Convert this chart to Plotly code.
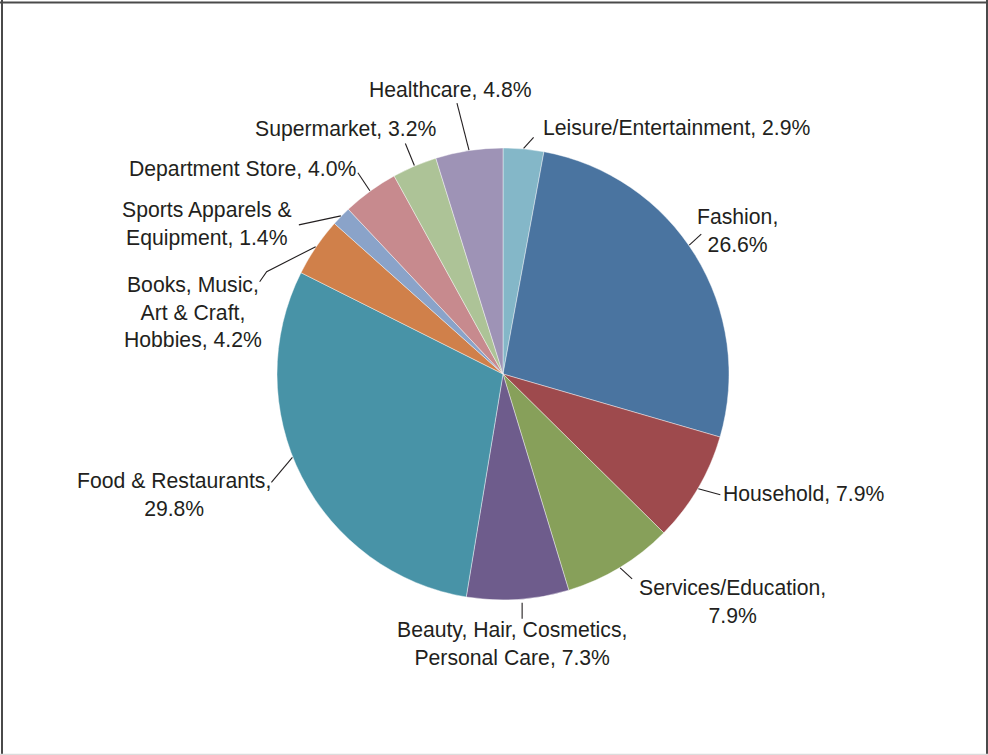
import math
import plotly.graph_objects as go

# Share of spending by retail category (%), clockwise from 12 o'clock
categories = [
    "Leisure/Entertainment", "Fashion", "Household", "Services/Education",
    "Beauty, Hair, Cosmetics, Personal Care", "Food & Restaurants",
    "Books, Music, Art & Craft, Hobbies", "Sports Apparels & Equipment",
    "Department Store", "Supermarket", "Healthcare",
]
shares = [2.9, 26.6, 7.9, 7.9, 7.3, 29.8, 4.2, 1.4, 4.0, 3.2, 4.8]
colors = [
    "#84b7c8", "#4a74a0", "#9e4a4d", "#87a05a", "#6e5c8c", "#4893a7",
    "#d0804a", "#8aa3c9", "#c78a8e", "#adc397", "#9e93b6",
]
# Label text as printed (line breaks inserted), value appended below
label_names = [
    "Leisure/Entertainment,", "Fashion,<br>", "Household,", "Services/Education,<br>",
    "Beauty, Hair, Cosmetics,<br>Personal Care,", "Food & Restaurants,<br>",
    "Books, Music,<br>Art & Craft,<br>Hobbies,", "Sports Apparels &<br>Equipment,",
    "Department Store,", "Supermarket,", "Healthcare,",
]

W, H = 988, 755
CX, CY, R = 503, 374, 226  # pie centre and radius in pixels

# Leader-line layout per label: angle nudge (deg), line points relative to the
# slice edge (px), then label anchor position (px) and x-anchor.
angle_nudge = [0, -3, 0, 0, -1, 5.4, 0, 0, 0, 0, 0]
line_pts = [
    [(10, -11)], [(12, -11)], [(22, 6)], [(12, 11)], [(0, 16)], [(-21, 25)],
    [(-49, 25), (-56, 35)], [(-42, 9)], [(-12, -18)], [(-9, -22)], [(-12, -47)],
]
line_gap = [0, 0, 0, 0, 3, 0, 0, 0, 0, 0, 0]
text_pos = [
    (541, 127, "left"), (737, 230, "center"), (721, 493, "left"),
    (732, 601, "center"), (512, 643, "center"), (174, 494, "center"),
    (193, 312, "center"), (207, 224, "center"), (358, 169, "right"),
    (439, 129, "right"), (450, 89, "center"),
]


def px(x, y):
    return x / W, 1 - y / H


fig = go.Figure(
    go.Pie(
        labels=categories,
        values=shares,
        sort=False,
        direction="clockwise",
        rotation=0,
        marker=dict(colors=colors, line=dict(color="rgba(255,255,255,0.7)", width=0.6)),
        textinfo="none",
        hoverinfo="label+percent",
        showlegend=False,
        domain=dict(x=[(CX - R) / W, (CX + R) / W], y=[1 - (CY + R) / H, 1 - (CY - R) / H]),
    )
)

shapes = []
annotations = []
total = sum(shares)
cum = 0.0
for i, v in enumerate(shares):
    mid = (cum + v / 2) / total * 360 + angle_nudge[i]
    cum += v
    a = math.radians(mid)
    r0 = R + 0.5 + line_gap[i]
    sx, sy = CX + r0 * math.sin(a), CY - r0 * math.cos(a)
    pts = [(sx, sy)] + [(sx + dx, sy + dy) for dx, dy in line_pts[i]]
    path = " ".join(
        ("M" if k == 0 else "L") + " {:.5f},{:.5f}".format(*px(x, y)) for k, (x, y) in enumerate(pts)
    )
    shapes.append(dict(type="path", xref="paper", yref="paper", path=path,
                       line=dict(color="#231f20", width=1.1)))
    tx, ty, anchor = text_pos[i]
    xp, yp = px(tx, ty)
    name = label_names[i]
    sep = "" if name.endswith("<br>") else " "
    annotations.append(dict(
        x=xp, y=yp, xref="paper", yref="paper", xanchor=anchor, yanchor="middle",
        text=f"{name}{sep}{v:.1f}%", showarrow=False, align="center",
        font=dict(family="Liberation Sans, Arial, sans-serif", size=21.2, color="#231f20"),
    ))

# Frame around the figure
frame = "#4a4a4a"
shapes += [
    dict(type="line", xref="paper", yref="paper", x0=px(2, 0)[0], x1=px(2, 0)[0], y0=0, y1=1,
         line=dict(color=frame, width=2)),
    dict(type="line", xref="paper", yref="paper", x0=0, x1=1, y0=px(0, 2.5)[1], y1=px(0, 2.5)[1],
         line=dict(color=frame, width=2)),
    dict(type="line", xref="paper", yref="paper", x0=px(987, 0)[0], x1=px(987, 0)[0], y0=0, y1=1,
         line=dict(color=frame, width=2)),
    dict(type="line", xref="paper", yref="paper", x0=0, x1=1, y0=px(0, 754.5)[1], y1=px(0, 754.5)[1],
         line=dict(color="#dcdcdc", width=1.5)),
]

fig.update_layout(
    width=W, height=H,
    margin=dict(l=0, r=0, t=0, b=0),
    paper_bgcolor="white",
    plot_bgcolor="white",
    shapes=shapes,
    annotations=annotations,
)

fig.write_html("out.html")
